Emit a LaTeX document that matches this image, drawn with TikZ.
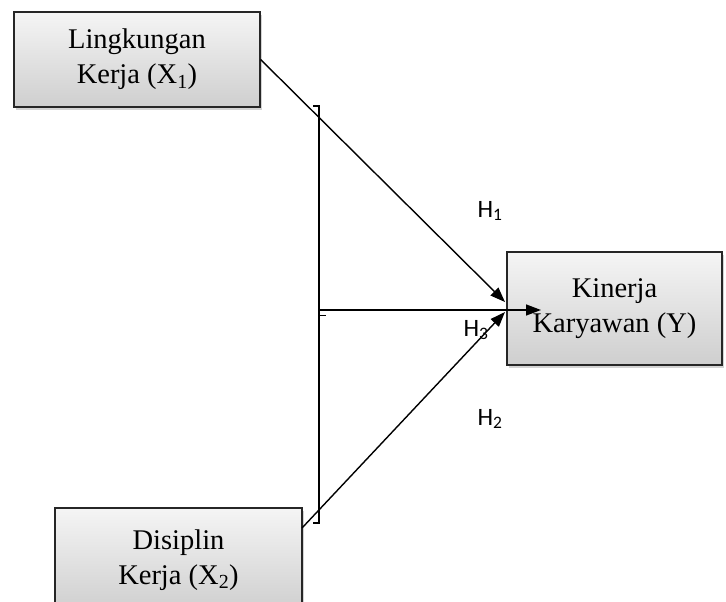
\documentclass[tikz,border=0pt]{standalone}
\usepackage{fontspec}
\setmainfont{Liberation Serif}
\newfontfamily\hfont{Carlito}
\usetikzlibrary{arrows.meta,shadows,calc}
\begin{document}
\begin{tikzpicture}[x=1pt,y=-1pt,
  varbox/.style={draw=black!85, line width=1.2pt, rectangle, top color=gray!8, bottom color=gray!38,
    drop shadow={shadow xshift=2pt,shadow yshift=-3pt,opacity=0.35},
    align=center, font=\fontsize{28.5}{35}\selectfont, inner sep=0pt},
  conn/.style={line width=1.4pt, draw=black},
  arr/.style={conn, -{Triangle[length=15pt,width=11pt]}},
  hlab/.style={font=\hfont\fontsize{25}{28}\selectfont, inner sep=0pt}]
\useasboundingbox (0,0) rectangle (726,602);
\node[varbox, minimum width=246pt, minimum height=95pt] (x1) at (137,59.5) {Lingkungan\\Kerja (X\textsubscript{1})};
\node[varbox, minimum width=247pt, minimum height=104pt] (x2) at (178.5,560) {Disiplin\\Kerja (X\textsubscript{2})};
\node[varbox, minimum width=215pt, minimum height=113pt] (y) at (614.5,308.5) {Kinerja\\Karyawan (Y)};
% bracket
\coordinate (bt) at (319,106);
\coordinate (bb) at (319,523);
\coordinate (btl) at (313,106);
\coordinate (bbl) at (313,523);
\coordinate (bm) at (319,310);
\coordinate (bmr) at (326,315);
\coordinate (bm2) at (319,315);
\draw[conn] (btl) -- (bt) -- (bb) -- (bbl);
\draw[conn, line width=1pt] (bm2) -- (bmr);
% arrows
\coordinate (t1) at (505,302);
\coordinate (t2) at (505,312);
\coordinate (t3) at (541,310);
\coordinate (s2) at (302,528);
\draw[arr] (x1.east) -- (t1);
\draw[arr] (s2) -- (t2);
\draw[arr] (bm) -- (t3);
\node[hlab] (h1) at (490,211) {H\textsubscript{1}};
\node[hlab] (h3) at (476,330) {H\textsubscript{3}};
\node[hlab] (h2) at (490,419) {H\textsubscript{2}};
\end{tikzpicture}
\end{document}
